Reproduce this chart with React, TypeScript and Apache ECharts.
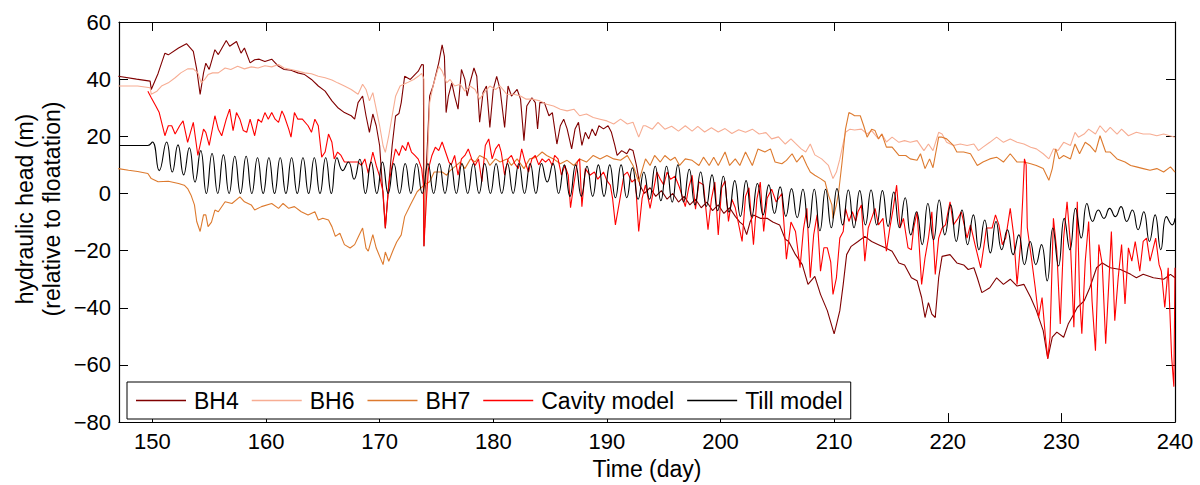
import React, { useEffect, useRef } from "react";
import * as echarts from "echarts";

// x axis tick labels (days) and y ticks
const xTicks = [150, 160, 170, 180, 190, 200, 210, 220, 230, 240];
const seriesNames = ["BH4", "BH6", "BH7", "Cavity model", "Till model"];
const seriesColors = ["#800000", "#F7AD93", "#DD7A2E", "#FF0000", "#000000"];
const yTitle = "hydraulic head (m)\n(relative to floatation)";
const xTitle = "Time (day)";

// BH4 borehole record [day, head]
const bh4: [number, number][] = [
  [147.0, 41], [148.6, 40], [149.8, 39.3], [149.9, 36.4], [150.5, 42], [151.1, 49.1], [151.4, 48.5], [152.3, 50.9],
  [153.0, 52.4], [153.6, 49.7], [153.9, 43.4], [154.2, 34.7], [154.5, 42.2], [154.7, 45.6], [155.0, 43.4], [155.5, 50.3],
  [155.8, 48.6], [156.5, 53.5], [156.8, 51.5], [157.4, 53.2], [157.8, 49.1], [158.1, 50.9], [158.6, 45.7], [159.0, 46.8],
  [159.4, 47.0], [159.9, 46.2], [160.5, 47.0], [161.1, 44.5], [161.6, 43.4], [162.2, 43.1], [162.8, 42.2], [163.4, 41.6],
  [164.0, 39.9], [164.6, 37.6], [165.2, 35.8], [165.8, 32.4], [166.3, 30.1], [166.9, 28.3], [167.5, 27.2], [167.8, 26.0],
  [168.1, 31.8], [168.5, 34.1], [168.8, 27.2], [169.1, 21.4], [169.4, 27.8], [169.7, 23.7], [170.0, 16.7], [170.2, 5],
  [170.5, -12.2], [170.8, 3], [171.1, 16.7], [171.4, 27.1], [171.7, 28], [171.9, 31.8], [172.2, 41], [172.7, 39.9],
  [173.1, 41.6], [173.4, 42.8], [173.7, 45.1], [173.85, 45], [173.9, -18.5], [174.0, 0], [174.4, 34.1], [174.7, 37.6],
  [175.2, 45.7], [175.5, 52], [175.7, 48], [175.85, 28.3], [176.05, 34.1], [176.35, 38.7], [176.6, 34.1], [176.9, 29.5],
  [177.2, 43.4], [177.5, 39.9], [177.7, 34.1], [177.95, 38.7], [178.3, 43.9], [178.55, 41], [178.8, 24.9], [179.1, 35.3],
  [179.4, 37.6], [179.7, 23.1], [180.0, 36.4], [180.3, 41], [180.6, 36.4], [181.0, 23.1], [181.3, 37.6], [181.6, 34.1],
  [182.1, 36.4], [182.4, 33], [182.7, 18.5], [182.95, 30.6], [183.4, 33.5], [183.7, 31.8], [183.9, 22.6], [184.1, 31.8],
  [184.5, 31.8], [184.9, 27.2], [185.2, 28.3], [185.6, 17.3], [185.9, 23.7], [186.2, 26], [186.5, 22.6], [186.9, 15.6],
  [187.2, 22.6], [187.5, 24.9], [187.8, 16.8], [188.1, 21.4], [188.4, 19.1], [188.7, 22.6], [189.0, 20.2], [189.3, 23.7],
  [189.7, 22.6], [190.1, 23.7], [190.4, 21.4], [190.7, 16.8], [190.9, 13.3], [191.3, 15], [191.75, 13.9], [192.0, 15.6],
  [192.3, 15], [192.6, 9.8], [192.9, 2.9], [193.3, 0], [193.8, 2], [194.3, -1], [194.8, 1], [195.3, -2], [195.8, 0],
  [196.3, -3], [196.8, -1], [197.3, -4], [197.8, -2], [198.3, -5], [198.8, -3], [199.3, -6], [199.8, -4], [200.3, -7],
  [200.8, -5], [201.3, -8], [201.7, -10], [202.0, -11], [202.3, -14.4], [202.6, -10], [202.9, -7.5], [203.5, -8.7],
  [204.1, -8.7], [204.6, -10], [205.2, -11], [205.7, -16], [206.0, -16.8], [206.6, -21.4], [207.2, -24.9], [207.7, -31.8],
  [208.3, -29], [208.8, -35.3], [209.4, -41], [210.0, -49.1], [210.2, -46], [210.5, -41], [210.8, -31.8], [211.1, -21.4],
  [211.5, -18.5], [212.1, -16.8], [212.7, -15], [213.3, -16.8], [213.9, -17.9], [214.5, -19], [215.1, -20.2], [215.7, -24.3],
  [216.2, -25], [216.8, -29.5], [217.3, -30.5], [217.7, -36.4], [218.0, -43.4], [218.3, -38.2], [218.6, -42.2], [218.9, -43.4],
  [219.2, -29.5], [219.5, -22], [220.2, -21.4], [220.8, -24.3], [221.4, -25], [221.8, -26.6], [222.3, -26], [222.6, -29.5],
  [223.0, -34.7], [223.7, -33], [224.3, -29.5], [224.9, -31.8], [225.5, -30], [226.1, -32.4], [226.7, -31.8], [227.3, -36.4],
  [227.8, -41], [228.4, -48], [228.8, -57.8], [229.2, -50.3], [229.6, -48.5], [230.2, -50.3], [230.6, -45.7], [231.1, -42.2],
  [231.4, -39.9], [232.0, -37.6], [232.5, -33], [233.1, -26], [233.6, -24.3], [234.3, -26], [235.2, -26.6], [236.1, -28.3],
  [236.6, -29.5], [237.2, -28.3], [238.1, -29.5], [239.0, -30], [239.6, -28.3], [240, -29.5],
];

// BH6 borehole record [day, head]
const bh6: [number, number][] = [
  [147, 37.6], [148.7, 37.6], [149.8, 37], [149.9, 34.7], [150.4, 35.8], [150.8, 37.6], [151.4, 38.7], [152.0, 40.5],
  [152.5, 42.2], [153.1, 43.6], [153.6, 43.6], [154.0, 42.2], [154.3, 38.7], [154.6, 39.9], [154.9, 41.6], [155.3, 42.2],
  [155.8, 42.2], [156.4, 43.9], [156.9, 43.4], [157.5, 44.5], [158.1, 43.6], [158.7, 44.3], [159.3, 43.9], [159.9, 44.7],
  [160.5, 44.3], [161.1, 45.1], [161.6, 43.9], [162.2, 43.4], [162.8, 42.8], [163.4, 42.2], [164.0, 41.9], [164.6, 41],
  [165.2, 40.5], [165.8, 39.7], [166.3, 38.7], [166.9, 37.6], [167.5, 36.4], [168.1, 34.7], [168.5, 38.2], [168.8, 36.4],
  [169.1, 32.4], [169.4, 35.3], [169.7, 29.5], [170.0, 23.7], [170.3, 16.7], [170.5, 14.4], [170.8, 20.2], [171.1, 27.1],
  [171.4, 34], [171.8, 37.6], [172.4, 38.7], [173.0, 39.9], [173.4, 41], [173.7, 42], [173.9, 40], [174.0, -12],
  [174.2, 10], [174.4, 31.8], [174.7, 37.6], [175.2, 44.5], [175.5, 42.8], [175.9, 38.7], [176.2, 39.9], [176.6, 37.6],
  [177.1, 38.2], [177.5, 35.8], [177.96, 37.6], [178.4, 36.4], [178.8, 33], [179.3, 35.8], [179.7, 37.6], [180.2, 36.4],
  [180.6, 37.6], [181.2, 34.7], [181.8, 34.7], [182.4, 34.1], [182.9, 33], [183.5, 33], [184.1, 32.4], [184.7, 31.2],
  [185.3, 30.6], [185.9, 29.5], [186.5, 28.9], [187.1, 29.5], [187.6, 27.2], [188.2, 27.8], [188.8, 26.6], [189.4, 26],
  [190.0, 25.4], [190.6, 24.3], [191.2, 26], [191.8, 24.3], [192.3, 24.9], [192.8, 19.7], [193.2, 23.7], [193.4, 23.7],
  [194.0, 22.5], [194.5, 24.9], [195.1, 22.5], [195.7, 23.5], [196.3, 21.8], [196.9, 23.7], [197.5, 21.8], [198.0, 23.5],
  [198.6, 21.5], [199.2, 23], [199.8, 21.5], [200.4, 22.7], [201.0, 21], [201.6, 22.3], [202.2, 21.4], [202.8, 22.5],
  [203.4, 20.8], [204.0, 21.3], [204.5, 19.1], [205.1, 19.8], [205.7, 17.3], [206.2, 19.1], [206.6, 17.5], [207.1, 15.6],
  [207.5, 14.5], [207.9, 17.3], [208.3, 13.5], [208.9, 12.1], [209.5, 9.8], [209.9, 5.2], [210.2, 7.5], [210.5, 12],
  [211.0, 21.4], [211.4, 22.5], [211.8, 22.2], [212.4, 22.5], [212.9, 20.8], [213.3, 22], [213.9, 19.1], [214.2, 20.8],
  [214.6, 18], [215.1, 19.7], [215.7, 17.9], [216.2, 18.5], [216.7, 17.9], [217.3, 18.5], [217.9, 15], [218.3, 17.3],
  [218.7, 15], [219.2, 21.4], [219.5, 20.8], [219.9, 17.9], [220.5, 16.8], [221.1, 17.3], [221.7, 16.8], [222.3, 17.3],
  [222.7, 15], [223.1, 16.2], [223.7, 17.9], [224.3, 19.7], [224.9, 17.9], [225.5, 19.1], [226.1, 17.9], [226.7, 17.3],
  [227.3, 16.2], [227.8, 15.6], [228.4, 13.9], [228.9, 12.1], [229.3, 15.6], [229.7, 15], [230.2, 17.9], [230.8, 16.8],
  [231.2, 21.4], [231.5, 19.7], [232.0, 20.8], [232.4, 22.5], [233.0, 20.8], [233.4, 23.7], [233.9, 21.4], [234.3, 23.1],
  [234.9, 20.8], [235.3, 22.5], [235.9, 20.2], [236.6, 21.4], [237.2, 20.8], [237.8, 20.8], [238.4, 20.2], [239.0, 20.8],
  [240, 19.7],
];

// BH7 borehole record [day, head]
const bh7: [number, number][] = [
  [147, 8.7], [147.9, 8.1], [148.7, 7.7], [149.6, 7], [149.9, 5.2], [150.5, 4.1], [151.4, 4.3], [152.3, 3.5],
  [152.8, 2.9], [153.1, 1.7], [153.4, -0.6], [153.7, -4], [153.9, -9.8], [154.2, -13.3], [154.5, -7.5], [154.7, -7.5],
  [154.9, -11.6], [155.2, -10], [155.5, -5.8], [155.8, -6.4], [156.4, -2.9], [157.0, -3.5], [157.7, -1.2], [158.1, -2.9],
  [158.7, -4], [159.0, -5.8], [159.6, -4.6], [160.5, -3.5], [161.1, -5.2], [161.5, -3.5], [162.0, -5.2], [162.5, -4.6],
  [163.1, -6.4], [163.7, -7.5], [164.3, -6.4], [164.6, -9.3], [165.0, -8.7], [165.5, -9.3], [165.8, -11.6], [166.1, -15],
  [166.5, -13.9], [166.9, -17.9], [167.4, -19.1], [167.8, -17.9], [168.2, -14.5], [168.5, -12.1], [168.8, -19.1], [169.0, -20.2],
  [169.4, -14.4], [169.7, -19.1], [170.0, -22], [170.3, -24.9], [170.5, -20.5], [170.8, -23.7], [171.2, -19.7], [171.5, -17],
  [171.9, -14.5], [172.2, -8.1], [172.7, -4], [173.3, 0.6], [173.9, 2.9], [174.4, 4.1], [174.8, 7.5], [175.5, 7.5],
  [175.9, 6.4], [176.2, 8], [176.6, 9.3], [177.1, 11], [177.5, 8.7], [178.0, 12.1], [178.4, 11], [178.8, 13.3],
  [179.4, 12.1], [179.7, 9.8], [180.2, 12.1], [180.6, 11], [181.2, 12.1], [181.6, 9.8], [182.1, 12.1], [182.7, 8.7],
  [183.2, 12.1], [183.8, 12.7], [184.3, 14.5], [184.7, 13.3], [185.3, 12.1], [185.9, 10.4], [186.5, 11.6], [187.1, 9.8],
  [187.6, 12.1], [188.2, 11], [188.8, 13.3], [189.4, 12.1], [190.0, 13.3], [190.6, 12.1], [191.2, 11.6], [191.8, 13.3],
  [192.3, 9.8], [192.8, 4.1], [193.2, 9.5], [193.4, 12.1], [193.8, 9.8], [194.2, 13.3], [194.7, 11], [195.1, 13.3],
  [195.6, 11.6], [196.0, 12.7], [196.4, 9.8], [196.9, 12.1], [197.5, 11.6], [198.1, 9.8], [198.5, 12.7], [199.0, 9.8],
  [199.4, 12.7], [199.8, 9.8], [200.4, 14.5], [200.8, 9.8], [201.3, 12.1], [201.7, 9.8], [202.2, 14.5], [202.8, 9.8],
  [203.3, 15.6], [203.9, 14.5], [204.4, 15.6], [204.8, 11], [205.4, 10.4], [205.8, 11.6], [206.3, 13.9], [206.7, 11],
  [207.2, 13.3], [207.6, 9.8], [207.9, 7.5], [208.3, 6.4], [208.8, 5.2], [209.2, 4.1], [209.5, -0.6], [209.8, -4],
  [209.9, -8.7], [210.2, -4], [210.4, 0.6], [210.7, 11], [211.0, 22.5], [211.3, 28.3], [211.6, 27.7], [211.8, 27.2],
  [212.3, 27.2], [212.6, 23.7], [212.9, 19.7], [213.3, 22.5], [213.6, 22], [213.9, 19.1], [214.2, 20.8], [214.6, 16.2],
  [215.1, 16.2], [215.7, 13.3], [216.3, 13.3], [216.7, 12.1], [217.3, 11.6], [217.6, 13.9], [218.0, 8.7], [218.4, 12.1],
  [218.7, 9], [219.2, 19.7], [219.5, 19.7], [219.9, 19.1], [220.5, 16.8], [220.8, 14.5], [221.4, 14.5], [222.0, 13.9],
  [222.6, 9.8], [223.1, 11], [223.7, 12.1], [224.3, 12.7], [224.9, 11], [225.5, 13.9], [226.1, 11], [226.7, 11],
  [227.3, 10.4], [227.8, 9.8], [228.4, 8.7], [228.9, 4.6], [229.2, 8.7], [229.5, 15.6], [229.8, 12.1], [230.2, 13.3],
  [230.8, 12.1], [231.2, 17.3], [231.6, 13.9], [232.1, 17.9], [232.5, 16.8], [233.0, 14.5], [233.4, 20.2], [233.9, 14.5],
  [234.3, 14.5], [234.9, 12.1], [235.6, 11], [236.1, 9.8], [236.6, 9.3], [237.2, 8.7], [237.8, 8.1], [238.4, 8.7],
  [239.0, 7.5], [239.6, 9.3], [240, 7.5],
];

// Cavity model [day, head]
const cavity: [number, number][] = [
  [149.6, 35.8], [149.9, 33.5], [150.3, 30.6], [150.6, 28.3], [151.1, 20.2], [151.4, 23.7], [151.7, 23.7], [152.0, 20.8],
  [152.4, 23.7], [152.7, 25.4], [153.1, 17.9], [153.6, 24.9], [154.0, 13.3], [154.5, 22.5], [154.7, 21.4], [155.0, 16.8],
  [155.5, 27.2], [155.8, 22.5], [156.1, 20.2], [156.5, 26], [156.8, 29.5], [157.1, 22], [157.4, 28.3], [157.7, 26],
  [158.0, 22], [158.3, 21.4], [158.6, 26], [159.0, 20.2], [159.3, 26], [159.6, 24.9], [159.9, 28.3], [160.2, 26],
  [160.5, 28.3], [160.8, 26], [161.1, 24.9], [161.4, 28.9], [161.6, 27.2], [162.0, 22.5], [162.2, 19.7], [162.5, 28.3],
  [162.8, 26], [163.2, 26], [163.7, 23.7], [164.0, 21.4], [164.3, 26], [164.6, 23.7], [164.9, 12.7], [165.2, 14.5],
  [165.5, 20.8], [165.8, 17.9], [166.0, 12.1], [166.3, 14.5], [166.6, 13.3], [166.9, 11], [167.5, 11], [168.1, 11],
  [168.4, 9.8], [168.7, 12.1], [169.0, 7], [169.4, 14.5], [169.7, 9.8], [170.0, 6], [170.3, 0.6], [170.5, -12],
  [170.8, 3], [171.1, 9.8], [171.4, 15.6], [171.7, 13.3], [172.0, 16.8], [172.3, 15], [172.5, 18], [172.8, 14.5],
  [173.1, 13.3], [173.4, 12], [173.7, 8.7], [173.85, 3], [173.9, -18.5], [174.1, -3], [174.3, 8.7], [174.6, 13.3],
  [174.9, 16.2], [175.2, 15], [175.5, 18], [175.8, 14.5], [176.1, 11], [176.3, 10], [176.6, 13.3], [176.9, 6.4],
  [177.2, 12.1], [177.5, 13.3], [177.8, 15.6], [178.1, 12.1], [178.4, 9.8], [178.7, 12.1], [179.0, 4.1], [179.3, 16.8],
  [179.6, 19.1], [179.9, 12.1], [180.2, 15.6], [180.5, 17.3], [180.7, 14.5], [181.0, 6.4], [181.3, 12.1], [181.6, 13.3],
  [181.9, 10.4], [182.2, 8.7], [182.5, 15.6], [182.8, 11], [183.1, 7.5], [183.4, 12.1], [183.7, 13.3], [184.0, 10],
  [184.3, 12.1], [184.6, 11], [184.9, 12.1], [185.2, 9.8], [185.4, 13.3], [185.7, 12.1], [186.0, 6.4], [186.3, 9.8],
  [186.6, 6.4], [186.8, -5], [187.1, 3.5], [187.4, 11], [187.6, 12.1], [187.8, -4.6], [188.1, 8.7], [188.5, 6.4],
  [188.9, 7.5], [189.2, 5], [189.7, 7.5], [190.0, 4.5], [190.3, 2.9], [190.5, -1.7], [190.75, -11], [191.1, -3],
  [191.5, 6.4], [191.8, 7.5], [192.2, 4], [192.5, 5], [192.8, -13.3], [193.1, -1.7], [193.4, 3], [193.8, -5.2],
  [194.0, -1], [194.4, 7.5], [194.7, 5], [195.0, 3], [195.3, 7.5], [195.6, 5], [196.0, 6], [196.4, 2],
  [196.9, -4.6], [197.2, 2], [197.5, 6.4], [197.8, -5.5], [198.1, 4], [198.5, 3], [198.9, -12.7], [199.2, -2],
  [199.5, 4], [199.8, -14.5], [200.1, 2], [200.4, 4.4], [200.7, -9.8], [201.0, -2], [201.3, -5], [201.9, -16.8],
  [202.2, -1], [202.5, 2], [202.9, -17.9], [203.2, -2], [203.5, 4], [203.8, -13.3], [204.1, -1.7], [204.5, 1.5],
  [204.9, -3], [205.4, 0], [205.8, -23], [206.2, -10], [206.6, -13.3], [207.0, -26], [207.3, -12.5], [207.6, -5.2],
  [207.9, -29.5], [208.2, -14.5], [208.5, -7.5], [208.8, -27.2], [209.1, -19], [209.4, -19], [209.7, -24], [209.9, -35.3],
  [210.2, -29.5], [210.5, -15.6], [210.8, -13.3], [211.0, -5.2], [211.3, -9.8], [211.6, -6.4], [211.9, -9.8], [212.1, -6.4],
  [212.4, -4], [212.7, -23.7], [213.0, -12.1], [213.3, -8.7], [213.6, -5.2], [213.9, -11], [214.3, -8.7], [214.6, -20.2],
  [214.9, -12.1], [215.2, -5.2], [215.5, 2.9], [215.8, -12.1], [216.1, -8.7], [216.5, -19], [216.8, -19.7], [217.0, -12.1],
  [217.3, -6.4], [217.7, -31.8], [218.0, -22.5], [218.3, -15.6], [218.6, -6.4], [218.9, -28.3], [219.2, -15.6], [219.5, -12.1],
  [219.8, -11], [220.2, -2.9], [220.5, -11], [220.9, -8.7], [221.2, -6.4], [221.7, -15.6], [222.0, -11], [222.4, -17.9],
  [222.9, -26], [223.2, -17.9], [223.4, -12.1], [223.9, -12.1], [224.2, -7.5], [224.5, -11], [224.8, -17.9], [225.1, -15.6],
  [225.5, -5.2], [225.8, -14.5], [226.1, -31.8], [226.4, -17.9], [226.6, -1.7], [226.75, 12.1], [226.9, 10], [227.0, -12],
  [227.4, -23.7], [227.7, -33], [228.0, -43.4], [228.3, -36.4], [228.6, -50.3], [228.8, -57.8], [229.0, -50.3], [229.3, -8.7],
  [229.6, -20.2], [229.9, -45.7], [230.2, -15.6], [230.5, -2.9], [230.8, -17.9], [231.1, -46.8], [231.4, -2.9], [231.6, -35.3],
  [231.8, -49.1], [232.1, -23.7], [232.4, -9.8], [232.7, -37.6], [233.0, -55], [233.3, -17.9], [233.6, -24.9], [233.9, -52.6],
  [234.2, -29.5], [234.4, -13.3], [234.7, -44.5], [235.0, -29.5], [235.3, -17.9], [235.6, -38.7], [235.9, -19], [236.2, -23.7],
  [236.5, -16.8], [236.9, -27.2], [237.2, -16.8], [237.5, -15.6], [237.8, -23.7], [238.3, -15.6], [238.6, -24.9], [238.8, -27.2],
  [239.1, -39.9], [239.4, -26], [239.7, -57], [239.9, -67.6], [240, -26],
];

// Till model: lead-in, then daily peak (day + 0.25) and trough (day + 0.75) values from day 151 to 239
const tillLead: [number, number][] = [[147.06, 16.8], [149.6, 16.8], [150.0, 18], [150.6, 8]];
const tillFirstDay = 151;
const tillPeaks = [
  18, 17, 16, 15, 14, 13.5, 13, 13, 12.5, 12.5,
  12.5, 12.5, 12.5, 12.5, 12.5, 12.5, 11, 12, 11, 11,
  10.5, 10.5, 10.5, 10.5, 10.5, 10.5, 10.5, 10.5, 10.5, 10.5,
  10.5, 10.5, 10.5, 10.5, 10.5, 10, 10, 9.5, 10, 10,
  10, 9, 7.5, 9.5, 9.5, 10, 8.5, 7.5, 6.5, 6,
  4.5, 4.5, 3.5, 3, 2.3, 1.7, 1.5, 1.5, 1.5, 1.7,
  1.2, 1, 1.2, 1, 0.5, -1.5, -6.4, -3.5, -2.3, -4,
  -5.8, -7.5, -9.3, -9.8, -12.7, -14.5, -16.8, -17.9, -12.1, -8.7,
  -5.2, -3.5, -5.8, -5.2, -4.6, -5.8, -6.4, -7.5, -8.1,
];
const tillTroughs = [
  7.5, 6.5, 4, 0, 0, 0, 0, 0, 0, 0,
  0, 0, 0, 0, 0, 8, 5, 0, 0, 0,
  0, 0, 0, 0, 0, 0, 0, 0, 0, 0,
  0, 0, 0, 4, 0, -1, -1, -1, -1, -1.5,
  -1.5, -2, -2, -2.5, -3, -3, -4, -4.5, -6, -6.5,
  -8, -8, -7.5, -7, -8, -8.5, -12, -13, -12, -11,
  -12, -11, -11, -11.5, -12, -14.5, -17.9, -16.2, -14.5, -16.8,
  -17.9, -19.7, -20.8, -19.7, -21.4, -24.9, -24.9, -30.6, -25.4, -19.7,
  -15.6, -9.8, -8.7, -8.1, -9.8, -12.7, -16.8, -19.7, -11,
];
const tillEnd: [number, number][] = [[240, -8.7]];

function buildTill(): [number, number][] {
  const out: [number, number][] = [...tillLead];
  for (let i = 0; i < tillPeaks.length; i++) {
    out.push([tillFirstDay + i + 0.25, tillPeaks[i]]);
    out.push([tillFirstDay + i + 0.75, tillTroughs[i]]);
  }
  return out.concat(tillEnd);
}

const FONT = "'Liberation Sans', Arial, Helvetica, sans-serif";

export default function App() {
  const ref = useRef<HTMLDivElement>(null);
  useEffect(() => {
    if (!ref.current) return;
    const chart = echarts.init(ref.current, undefined, { renderer: "svg" });
    const datasets = [bh4, bh6, bh7, cavity, buildTill()];
    const xMin = 147.06;
    const xMax = 240;
    const tickStyle = { show: true, inside: true, length: 9, lineStyle: { color: "#000", width: 1 } };
    const axisLine = { show: true, onZero: false, lineStyle: { color: "#000", width: 1.2 } };
    chart.setOption({
      animation: false,
      backgroundColor: "#fff",
      textStyle: { fontFamily: FONT },
      grid: { left: 119, right: 25, top: 22, bottom: 59, containLabel: false },
      graphic: [
        {
          type: "text",
          x: 38,
          y: 209,
          rotation: Math.PI / 2,
          style: {
            text: yTitle,
            fill: "#000",
            font: `23px ${FONT}`,
            fontSize: 23,
            fontFamily: FONT,
            align: "center",
            verticalAlign: "middle",
            lineHeight: 27,
          },
        },
      ],
      legend: {
        data: seriesNames,
        left: 127,
        top: 382,
        orient: "horizontal",
        icon: "rect",
        padding: [6, 8, 6, 9],
        itemGap: 13,
        itemWidth: 50,
        itemHeight: 1.5,
        backgroundColor: "#fff",
        borderColor: "#000",
        borderWidth: 1,
        z: 10,
        textStyle: { fontSize: 23, color: "#000", fontFamily: FONT, padding: [0, 0, 0, 3], lineHeight: 25 },
      },
      xAxis: [
        {
          type: "value",
          min: xMin,
          max: xMax,
          position: "bottom",
          name: xTitle,
          nameLocation: "middle",
          nameGap: 32,
          nameTextStyle: { fontSize: 23, color: "#000", fontFamily: FONT },
          axisLine,
          axisTick: { ...tickStyle, customValues: xTicks },
          axisLabel: { customValues: xTicks, fontSize: 22, color: "#000", margin: 8, fontFamily: FONT },
          splitLine: { show: false },
        },
        {
          type: "value",
          min: xMin,
          max: xMax,
          position: "top",
          axisLine,
          axisTick: { ...tickStyle, customValues: xTicks },
          axisLabel: { show: false },
          splitLine: { show: false },
        },
      ],
      yAxis: [
        {
          type: "value",
          min: -80,
          max: 60,
          interval: 20,
          position: "left",
          axisLine,
          axisTick: tickStyle,
          axisLabel: { fontSize: 22, color: "#000", margin: 8, fontFamily: FONT, formatter: (v: number) => (v < 0 ? "\u2212" + Math.abs(v) : String(v)) },
          splitLine: { show: false },
        },
        {
          type: "value",
          min: -80,
          max: 60,
          interval: 20,
          position: "right",
          axisLine,
          axisTick: tickStyle,
          axisLabel: { show: false },
          splitLine: { show: false },
        },
      ],
      series: seriesNames.map((name, i) => ({
        name,
        type: "line",
        data: datasets[i],
        xAxisIndex: 0,
        yAxisIndex: 0,
        showSymbol: false,
        symbol: "none",
        smooth: i === 4 ? 0.5 : false,
        clip: true,
        color: seriesColors[i],
        itemStyle: { color: seriesColors[i] },
        lineStyle: { color: seriesColors[i], width: 1.1 },
        z: 2 + i,
      })),
    });
    return () => chart.dispose();
  }, []);
  return <div ref={ref} style={{ position: "fixed", left: 0, top: 0, width: 1200, height: 485 }} />;
}
